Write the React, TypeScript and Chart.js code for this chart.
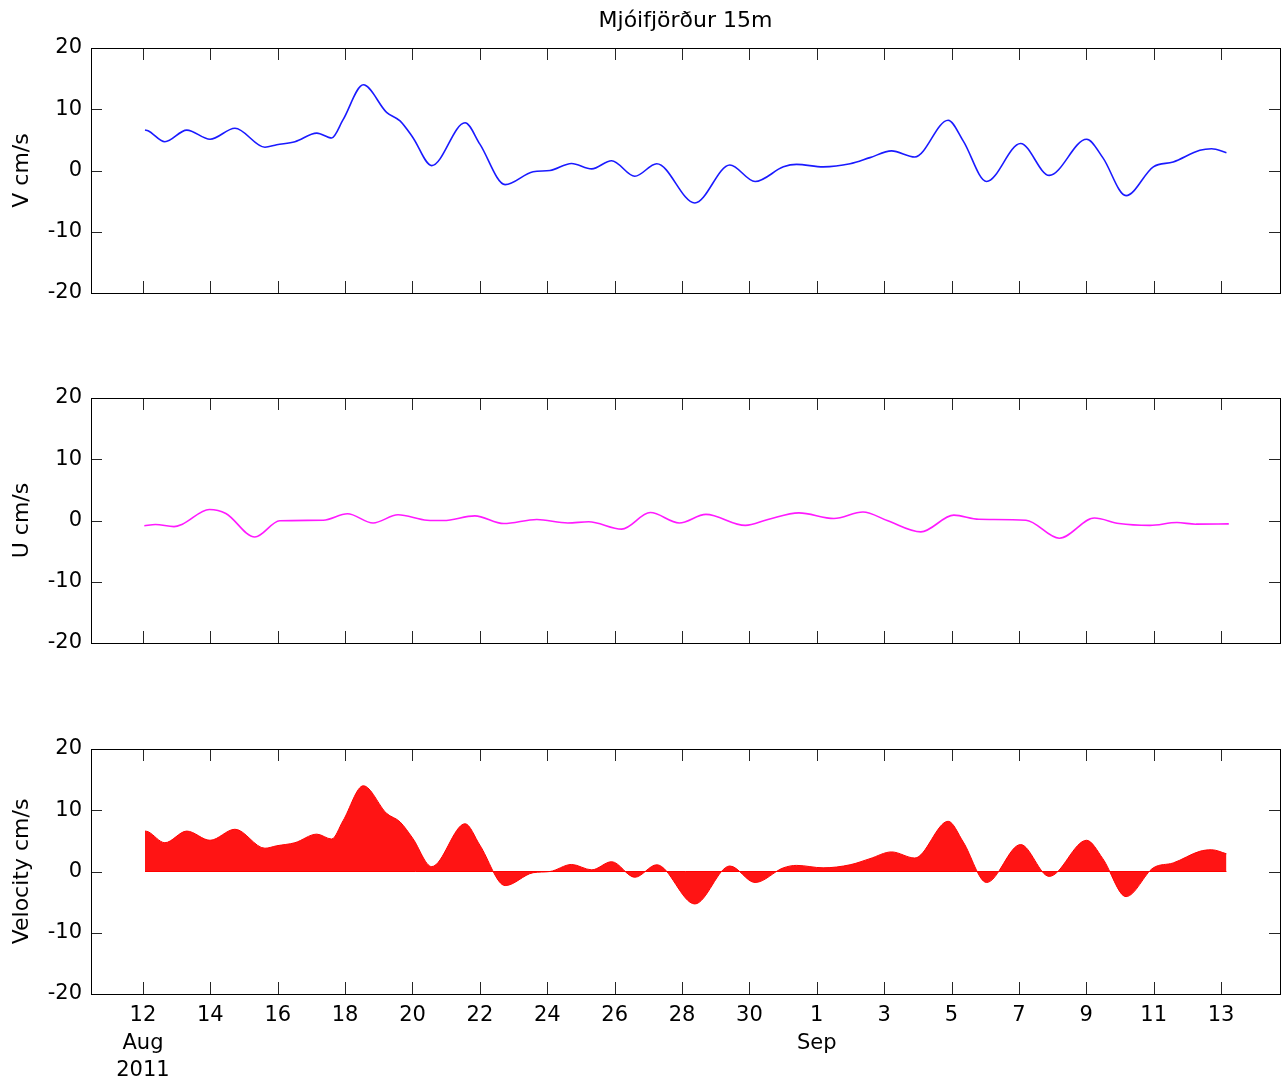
import React, { useEffect, useRef } from "react";
import { Chart, registerables } from "chart.js";

Chart.register(...registerables);

const TITLE = "Mjóifjörður 15m";
const FONT = "DejaVu Sans";

// x axis in day numbers (Aug 1 = 1, Sep 1 = 32)
const X_MIN = 10.457;
const X_MAX = 45.75;
const xTickDays = [12, 14, 16, 18, 20, 22, 24, 26, 28, 30, 32, 34, 36, 38, 40, 42, 44];
const xTickLabels = [
  ["12", "Aug", "2011"], ["14"], ["16"], ["18"], ["20"], ["22"], ["24"], ["26"], ["28"], ["30"],
  ["1", "Sep"], ["3"], ["5"], ["7"], ["9"], ["11"], ["13"],
];
const yTicks = [-20, -10, 0, 10, 20];

// V component (cm/s)
const vDays = [12.06, 12.15, 12.65, 13.30, 13.99, 14.73, 15.62, 15.97, 16.51, 17.16, 17.60, 17.94, 18.54, 19.23, 19.63, 20.01, 20.57, 21.56, 22.00, 22.75, 23.58, 24.08, 24.72, 25.32, 25.91, 26.60, 27.25, 28.38, 29.42, 30.17, 31.01, 31.40, 32.19, 32.99, 33.58, 34.22, 34.91, 35.90, 36.35, 37.04, 38.05, 38.90, 40.01, 40.49, 41.18, 41.99, 42.58, 43.37, 43.72, 44.16];
const vValues = [6.6, 6.5, 4.7, 6.6, 5.1, 6.9, 3.8, 4.2, 4.7, 6.1, 5.3, 8.3, 14.0, 9.5, 8.1, 5.4, 0.8, 7.8, 4.3, -2.3, -0.2, 0.0, 1.15, 0.27, 1.6, -0.94, 1.1, -5.3, 0.9, -1.8, 0.6, 1.0, 0.6, 1.1, 2.1, 3.2, 2.2, 8.2, 4.8, -1.8, 4.4, -0.8, 5.1, 2.1, -4.1, 0.6, 1.4, 3.3, 3.55, 2.9];

// U component (cm/s)
const uDays = [12.04, 12.37, 12.92, 13.17, 13.97, 14.46, 15.32, 16.06, 17.35, 18.07, 18.83, 19.57, 20.43, 20.92, 21.85, 22.71, 23.69, 24.61, 25.23, 26.21, 27.06, 27.92, 28.71, 29.88, 30.55, 31.47, 32.51, 33.37, 34.11, 35.09, 36.07, 36.81, 38.21, 39.20, 40.24, 40.97, 41.89, 42.69, 43.25, 44.23];
const uValues = [-0.87, -0.65, -1.0, -0.6, 1.8, 1.15, -2.7, -0.05, 0.05, 1.1, -0.4, 0.93, 0.05, 0.0, 0.76, -0.5, 0.16, -0.4, -0.2, -1.4, 1.3, -0.4, 1.0, -0.8, 0.16, 1.25, 0.33, 1.4, -0.05, -1.85, 0.87, 0.2, 0.05, -2.9, 0.4, -0.5, -0.8, -0.33, -0.6, -0.55];

const toPoints = (xs: number[], ys: number[]) => xs.map((x, i) => ({ x, y: ys[i] }));

const matlabAxes = {
  id: "matlabAxes",
  afterDraw(chart: any) {
    const { ctx, chartArea: a, scales } = chart;
    const xs = scales.x;
    const ys = scales.y;
    ctx.save();
    ctx.strokeStyle = "#262626";
    ctx.lineWidth = 1;
    ctx.beginPath();
    for (const d of xTickDays) {
      const px = Math.round(xs.getPixelForValue(d)) + 0.5;
      ctx.moveTo(px, a.bottom);
      ctx.lineTo(px, a.bottom - 12);
      ctx.moveTo(px, a.top);
      ctx.lineTo(px, a.top + 12);
    }
    for (const t of yTicks) {
      if (t === yTicks[0] || t === yTicks[yTicks.length - 1]) continue;
      const py = Math.round(ys.getPixelForValue(t)) + 0.5;
      ctx.moveTo(a.left, py);
      ctx.lineTo(a.left + 11, py);
      ctx.moveTo(a.right, py);
      ctx.lineTo(a.right - 11, py);
    }
    ctx.stroke();
    ctx.strokeStyle = "#000";
    ctx.strokeRect(
      Math.round(a.left) + 0.5,
      Math.round(a.top) + 0.5,
      Math.round(a.right - a.left),
      Math.round(a.bottom - a.top)
    );
    ctx.restore();
  },
};

type Panel = {
  top: number;
  height: number;
  yTitle: string;
  showTitle: boolean;
  showX: boolean;
  datasets: any[];
};

function makeConfig(p: Panel): any {
  return {
    type: "line",
    data: { datasets: p.datasets },
    options: {
      responsive: false,
      animation: false,
      layout: {
        padding: { left: 0, right: 5, top: p.showTitle ? 0 : 48, bottom: p.showX ? 0 : 27 },
      },
      plugins: {
        legend: { display: false },
        tooltip: { enabled: false },
        title: {
          display: p.showTitle,
          text: TITLE,
          fullSize: false,
          color: "#000",
          font: { family: FONT, size: 22, weight: "normal", lineHeight: 1.2 },
          padding: { top: 8, bottom: 13.6 },
        },
      },
      scales: {
        x: {
          type: "linear",
          min: X_MIN,
          max: X_MAX,
          display: p.showX,
          grid: { display: false, drawTicks: false },
          border: { display: false },
          afterBuildTicks: (s: any) => {
            s.ticks = xTickDays.map((v) => ({ value: v }));
          },
          afterFit: (s: any) => {
            s.height = p.showX ? 90 : 0;
          },
          ticks: {
            autoSkip: false,
            maxRotation: 0,
            minRotation: 0,
            padding: 8,
            color: "#000",
            font: { family: FONT, size: 21, lineHeight: 1.31 },
            callback: (value: number) => {
              const i = xTickDays.indexOf(value);
              return i >= 0 ? xTickLabels[i] : "";
            },
          },
        },
        y: {
          type: "linear",
          min: yTicks[0],
          max: yTicks[yTicks.length - 1],
          grid: { display: false, drawTicks: false },
          border: { display: false },
          afterBuildTicks: (s: any) => {
            s.ticks = yTicks.map((v) => ({ value: v }));
          },
          afterFit: (s: any) => {
            s.width = 91;
          },
          ticks: {
            padding: 9,
            color: "#000",
            font: { family: FONT, size: 21, lineHeight: 1.2 },
          },
          title: {
            display: true,
            text: p.yTitle,
            color: "#000",
            font: { family: FONT, size: 22, lineHeight: 1.2 },
            padding: { top: 9, bottom: 0 },
          },
        },
      },
    },
    plugins: [matlabAxes],
  };
}

const panels: Panel[] = [
  {
    top: 0,
    height: 320,
    yTitle: "V cm/s",
    showTitle: true,
    showX: false,
    datasets: [
      {
        data: toPoints(vDays, vValues),
        borderColor: "#1a1aff",
        borderWidth: 1.6,
        pointRadius: 0,
        cubicInterpolationMode: "monotone",
        fill: false,
      },
    ],
  },
  {
    top: 350,
    height: 320,
    yTitle: "U cm/s",
    showTitle: false,
    showX: false,
    datasets: [
      {
        data: toPoints(uDays, uValues),
        borderColor: "#ff1aff",
        borderWidth: 1.6,
        pointRadius: 0,
        cubicInterpolationMode: "monotone",
        fill: false,
      },
    ],
  },
  {
    top: 701,
    height: 383,
    yTitle: "Velocity cm/s",
    showTitle: false,
    showX: true,
    datasets: [
      {
        data: toPoints(vDays, vValues),
        borderColor: "#ff0000",
        backgroundColor: "rgba(255,0,0,0.92)",
        borderWidth: 1,
        pointRadius: 0,
        cubicInterpolationMode: "monotone",
        fill: "origin",
      },
      {
        data: [
          { x: vDays[0], y: 0 },
          { x: vDays[vDays.length - 1], y: 0 },
        ],
        borderColor: "#ff0000",
        borderWidth: 1,
        pointRadius: 0,
        fill: false,
      },
    ],
  },
];

export default function App() {
  const refs = [useRef<HTMLCanvasElement>(null), useRef<HTMLCanvasElement>(null), useRef<HTMLCanvasElement>(null)];

  useEffect(() => {
    const charts = panels.map((p, i) => new Chart(refs[i].current as HTMLCanvasElement, makeConfig(p)));
    return () => charts.forEach((c) => c.destroy());
  }, []);

  return (
    <div style={{ position: "absolute", left: 0, top: 0, width: 1285, height: 1084, background: "#fff" }}>
      {panels.map((p, i) => (
        <canvas
          key={i}
          ref={refs[i]}
          width={1285}
          height={p.height}
          style={{ position: "absolute", left: 0, top: p.top, width: 1285, height: p.height, display: "block" }}
        />
      ))}
    </div>
  );
}
